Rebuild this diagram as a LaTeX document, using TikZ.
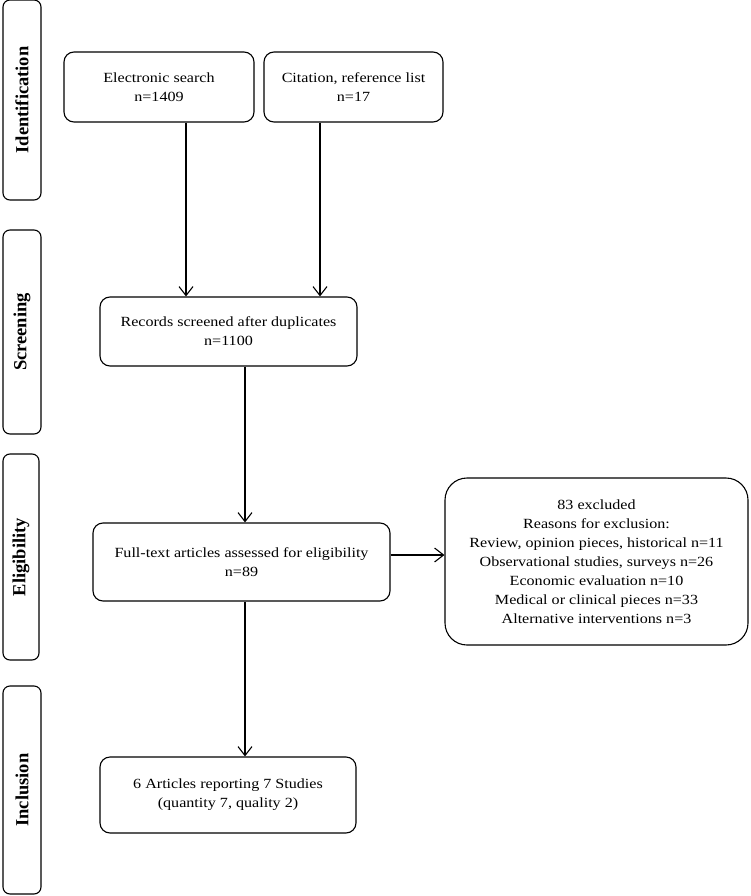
\documentclass[tikz,border=0pt]{standalone}
\usepackage{fontspec}
\setmainfont{Liberation Serif}
\newfontfamily\widefont[FakeStretch=1.15]{Liberation Serif}
\usetikzlibrary{arrows.meta}
\begin{document}
\begin{tikzpicture}[x=1pt,y=-1pt,
  box/.style={draw, line width=1.1pt, rounded corners=10pt, align=center, font=\widefont\fontsize{14}{19}\selectfont, inner sep=0pt},
  phase/.style={draw, line width=1.1pt, rounded corners=7pt, inner sep=0pt},
  plabel/.style={rotate=90, font=\fontsize{18.5}{20}\selectfont\bfseries},
  arr/.style={line width=1.1pt, -{Straight Barb[length=9pt,width=14pt,line width=1.1pt]}}]
\useasboundingbox (0,0) rectangle (750,896);
% phase bars
\node[phase, minimum width=38pt, minimum height=200pt] (pid) at (22,100) {};
\node[plabel] at (pid.center) {Identification};
\node[phase, minimum width=38pt, minimum height=204pt] (psc) at (22,332) {};
\node[plabel] at (psc.center) {Screening};
\node[phase, minimum width=36pt, minimum height=206pt] (pel) at (21,557) {};
\node[plabel] at (pel.center) {Eligibility};
\node[phase, minimum width=38pt, minimum height=208pt] (pin) at (22,790) {};
\node[plabel] at (pin.center) {Inclusion};
% boxes
\node[box, minimum width=190pt, minimum height=70pt] (es) at (159,87) {Electronic search\\n=1409};
\node[box, minimum width=179pt, minimum height=70pt] (cr) at (353.5,87) {Citation, reference list\\n=17};
\node[box, minimum width=257pt, minimum height=69pt] (rs) at (228.5,331.5) {Records screened after duplicates\\n=1100};
\node[box, minimum width=297pt, minimum height=78pt] (ft) at (241.5,562) {Full-text articles assessed for eligibility\\n=89};
\node[box, rounded corners=22pt, minimum width=303pt, minimum height=167pt] (ex) at (596.5,561.5) {83 excluded\\Reasons for exclusion:\\Review, opinion pieces, historical n=11\\Observational studies, surveys n=26\\Economic evaluation n=10\\Medical or clinical pieces n=33\\Alternative interventions n=3};
\node[box, minimum width=256pt, minimum height=76pt] (in) at (228,795) {6 Articles reporting 7 Studies\\(quantity 7, quality 2)};
% connectors
\draw[arr] (es.south -| 186,0) -- (rs.north -| 186,0);
\draw[arr] (cr.south -| 320,0) -- (rs.north -| 320,0);
\draw[arr] (rs.south -| 245,0) -- (ft.north -| 245,0);
\draw[arr] (ft.east |- 0,555) -- (ex.west |- 0,555);
\draw[arr] (ft.south -| 245,0) -- (in.north -| 245,0);
\end{tikzpicture}
\end{document}
